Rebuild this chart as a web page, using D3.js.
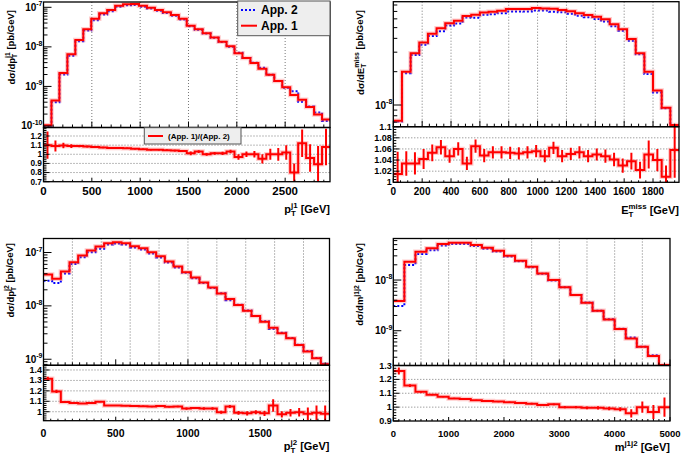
<!DOCTYPE html>
<html>
<head>
<meta charset="utf-8">
<script src="https://cdn.jsdelivr.net/npm/d3@7"></script>
<style>
html,body{margin:0;padding:0;background:#fff;}
svg text{font-family:"Liberation Sans",Arial,Helvetica,sans-serif;font-weight:bold;fill:#000;}
</style>
</head>
<body>
<svg id="chart" width="685" height="459"></svg>
<script>
// ---------------- data ----------------
// pT of leading jet (36 bins)
const ptj1Range = [0, 2964];
const ptj1App1 = [1.05e-10, 4.4e-10, 2.2e-9, 6.5e-9, 1.5e-8, 2.8e-8, 5.1e-8, 7.1e-8, 8.6e-8, 1.10e-7, 1.19e-7, 1.21e-7, 1.10e-7, 9.8e-8, 8.6e-8, 7.5e-8, 6.4e-8, 5.1e-8, 3.4e-8, 2.8e-8, 2.2e-8, 1.73e-8, 1.34e-8, 1.03e-8, 6.9e-9, 5.2e-9, 3.9e-9, 2.8e-9, 1.96e-9, 1.38e-9, 9.5e-10, 6.1e-10, 4.6e-10, 3.0e-10, 1.95e-10, 1.45e-10];
const ptj1App2 = [0.95e-10, 4.0e-10, 2.0e-9, 6.0e-9, 1.38e-8, 2.58e-8, 4.72e-8, 6.6e-8, 8.0e-8, 1.03e-7, 1.12e-7, 1.14e-7, 1.04e-7, 9.3e-8, 8.2e-8, 7.2e-8, 6.15e-8, 4.93e-8, 3.33e-8, 2.72e-8, 2.18e-8, 1.71e-8, 1.33e-8, 1.01e-8, 7.1e-9, 5.2e-9, 3.94e-9, 2.98e-9, 1.96e-9, 1.38e-9, 9.3e-10, 7.6e-10, 4.1e-10, 3.1e-10, 2.2e-10, 1.34e-10];
const ptj1Ratio = [1.10, 1.09, 1.095, 1.09, 1.09, 1.085, 1.08, 1.075, 1.07, 1.07, 1.065, 1.06, 1.055, 1.05, 1.05, 1.045, 1.04, 1.035, 1.01, 1.03, 1.0, 1.01, 1.01, 1.03, 0.97, 1.0, 1.0, 0.95, 1.0, 1.0, 1.02, 0.80, 1.12, 0.96, 0.89, 1.08];
const ptj1RatioErr = [0.15, 0.06, 0.03, 0.02, 0.012, 0.01, 0.008, 0.008, 0.008, 0.008, 0.008, 0.008, 0.008, 0.008, 0.008, 0.01, 0.01, 0.01, 0.02, 0.015, 0.015, 0.015, 0.018, 0.02, 0.03, 0.03, 0.035, 0.05, 0.06, 0.07, 0.08, 0.1, 0.15, 0.15, 0.2, 0.2];

// missing ET (33 bins)
const metRange = [0, 1980];
const metApp1 = [7.2e-9, 2.0e-8, 2.93e-8, 3.66e-8, 4.41e-8, 4.93e-8, 5.47e-8, 5.78e-8, 6.37e-8, 6.55e-8, 6.83e-8, 6.97e-8, 7.11e-8, 7.36e-8, 7.36e-8, 7.36e-8, 7.52e-8, 7.45e-8, 7.4e-8, 7.21e-8, 7.02e-8, 6.73e-8, 6.5e-8, 6.28e-8, 5.94e-8, 5.36e-8, 4.83e-8, 3.95e-8, 2.93e-8, 2.0e-8, 1.35e-8, 9.46e-9, 6.59e-9];
const metApp2 = [7.09e-9, 1.934e-8, 2.834e-8, 3.51e-8, 4.19e-8, 4.64e-8, 5.22e-8, 5.45e-8, 6.16e-8, 6.15e-8, 6.52e-8, 6.61e-8, 6.75e-8, 6.99e-8, 7.0e-8, 6.98e-8, 7.12e-8, 7.12e-8, 6.97e-8, 6.89e-8, 6.68e-8, 6.39e-8, 6.21e-8, 5.98e-8, 5.67e-8, 5.15e-8, 4.69e-8, 3.81e-8, 2.87e-8, 1.905e-8, 1.298e-8, 9.37e-9, 6.23e-9];
const metRatio = [1.015, 1.034, 1.034, 1.042, 1.053, 1.063, 1.047, 1.06, 1.034, 1.065, 1.048, 1.054, 1.054, 1.053, 1.052, 1.054, 1.056, 1.047, 1.062, 1.047, 1.051, 1.054, 1.047, 1.05, 1.047, 1.041, 1.03, 1.038, 1.022, 1.05, 1.04, 1.01, 1.058];
const metRatioErr = [0.04, 0.022, 0.02, 0.018, 0.015, 0.013, 0.012, 0.012, 0.012, 0.012, 0.012, 0.011, 0.011, 0.011, 0.011, 0.011, 0.011, 0.011, 0.011, 0.011, 0.011, 0.011, 0.011, 0.011, 0.012, 0.012, 0.013, 0.015, 0.015, 0.025, 0.02, 0.02, 0.05];

// pT of second jet (33 bins)
const ptj2Range = [0, 1980];
const ptj2App1 = [3.88e-8, 3.21e-8, 4.4e-8, 6.6e-8, 8.8e-8, 1.09e-7, 1.29e-7, 1.49e-7, 1.56e-7, 1.49e-7, 1.31e-7, 1.20e-7, 1.01e-7, 8.5e-8, 6.8e-8, 5.47e-8, 4.28e-8, 3.41e-8, 2.75e-8, 2.22e-8, 1.71e-8, 1.34e-8, 1.04e-8, 8.1e-9, 6.46e-9, 5.06e-9, 3.91e-9, 3.06e-9, 2.47e-9, 1.85e-9, 1.39e-9, 1.04e-9, 8.1e-10];
const ptj2App2 = [2.95e-8, 2.69e-8, 4.03e-8, 6.09e-8, 8.16e-8, 1.006e-7, 1.178e-7, 1.406e-7, 1.472e-7, 1.41e-7, 1.242e-7, 1.14e-7, 9.62e-8, 8.06e-8, 6.49e-8, 5.21e-8, 4.16e-8, 3.29e-8, 2.67e-8, 2.16e-8, 1.72e-8, 1.28e-8, 1.05e-8, 8.22e-9, 6.49e-9, 5.14e-9, 3.69e-9, 3.14e-9, 2.49e-9, 1.86e-9, 1.42e-9, 1.05e-9, 8.27e-10];
const ptj2Ratio = [1.315, 1.195, 1.093, 1.083, 1.078, 1.083, 1.095, 1.06, 1.06, 1.057, 1.055, 1.053, 1.05, 1.055, 1.048, 1.05, 1.03, 1.035, 1.03, 1.03, 0.995, 1.05, 0.99, 0.985, 0.995, 0.985, 1.06, 0.975, 0.99, 0.995, 0.98, 0.99, 0.98];
const ptj2RatioErr = [0.02, 0.015, 0.008, 0.006, 0.005, 0.005, 0.005, 0.005, 0.005, 0.005, 0.005, 0.006, 0.006, 0.007, 0.008, 0.008, 0.01, 0.01, 0.012, 0.012, 0.015, 0.015, 0.018, 0.02, 0.02, 0.025, 0.06, 0.03, 0.035, 0.04, 0.06, 0.07, 0.08];

// dijet invariant mass (25 bins)
const mjjRange = [0, 5000];
const mjjApp1 = [3.86e-9, 2.30e-8, 3.62e-8, 4.22e-8, 5.14e-8, 5.46e-8, 5.46e-8, 4.91e-8, 4.35e-8, 3.79e-8, 3.02e-8, 2.41e-8, 1.83e-8, 1.35e-8, 1.0e-8, 7.2e-9, 5.06e-9, 3.57e-9, 2.48e-9, 1.67e-9, 1.08e-9, 7.06e-10, 4.83e-10, 3.16e-10, 2.1e-10];
const mjjApp2 = [3.06e-9, 1.99e-8, 3.26e-8, 3.87e-8, 4.78e-8, 5.14e-8, 5.16e-8, 4.68e-8, 4.16e-8, 3.64e-8, 2.92e-8, 2.34e-8, 1.79e-8, 1.33e-8, 9.8e-9, 7.2e-9, 5.06e-9, 3.59e-9, 2.49e-9, 1.69e-9, 1.10e-9, 7.39e-10, 4.83e-10, 3.27e-10, 2.1e-10];
const mjjRatio = [1.26, 1.155, 1.11, 1.09, 1.075, 1.063, 1.058, 1.05, 1.045, 1.04, 1.035, 1.03, 1.025, 1.015, 1.02, 1.0, 1.0, 0.995, 0.995, 0.99, 0.985, 0.955, 1.0, 0.965, 1.0];
const mjjRatioErr = [0.025, 0.01, 0.006, 0.005, 0.004, 0.004, 0.004, 0.004, 0.004, 0.004, 0.005, 0.005, 0.006, 0.006, 0.007, 0.008, 0.009, 0.01, 0.012, 0.013, 0.015, 0.03, 0.04, 0.05, 0.07];

// tick labels
const ptj1XTicks = [0, 500, 1000, 1500, 2000, 2500];
const metXTicks = [0, 200, 400, 600, 800, 1000, 1200, 1400, 1600, 1800];
const ptj2XTicks = [0, 500, 1000, 1500];
const mjjXTicks = [0, 1000, 2000, 3000, 4000, 5000];
const ptj1Grid = [500, 1000, 1500, 2000, 2500];
const metGrid = [200, 400, 600, 800, 1000, 1200, 1400, 1600, 1800];
const ptj2Grid = [200, 400, 600, 800, 1000, 1200, 1400, 1600, 1800];
const mjjGrid = [500, 1000, 1500, 2000, 2500, 3000, 3500, 4000, 4500];
const ptj1RTicks = [0.7, 0.8, 0.9, 1, 1.1, 1.2];
const metRTicks = [1, 1.02, 1.04, 1.06, 1.08, 1.1];
const ptj2RTicks = [1, 1.1, 1.2, 1.3, 1.4];
const mjjRTicks = [0.9, 1, 1.1, 1.2, 1.3];
const ptj1YExp = [-10, -9, -8, -7];
const metYExp = [-8];
const ptj2YExp = [-9, -8, -7];
const mjjYExp = [-9, -8];
const legendLabels = ["App. 2", "App. 1"];
const ratioLegendLabel = "(App. 1)/(App. 2)";

// ---------------- layout ----------------
const panels = [
  {id:"p1", xDom:ptj1Range, a1:ptj1App1, a2:ptj1App2, r:ptj1Ratio, e:ptj1RatioErr,
   xTicks:ptj1XTicks, grid:ptj1Grid, rTicks:ptj1RTicks, yExp:ptj1YExp,
   L:43.5, R:330, T:2, M:127.5, B:181.7,
   yDom:[Math.pow(10,-10.038), Math.pow(10,-6.866)], rDom:[0.7,1.293],
   xMinor:100, rMinor:0.02, tickFs:11.5, tickY:195, rFs:8.3,
   xTitle:{pre:"p", sub:"T", sup:"j1", post:" [GeV]"}, xTitleY:213,
   yTitle:{pre:"d\u03c3/dp", sub:"T", sup:"j1", post:" [pb/GeV]"}, yTitleX:14.5, yTitleY:10},
  {id:"p2", xDom:metRange, a1:metApp1, a2:metApp2, r:metRatio, e:metRatioErr,
   xTicks:metXTicks, grid:metGrid, rTicks:metRTicks, yExp:metYExp,
   L:393.3, R:679, T:1.7, M:126.7, B:182.3,
   yDom:[6.37e-9, 8.57e-8], rDom:[1.0,1.1],
   xMinor:50, rMinor:0.005, tickFs:10, tickY:195, rFs:9,
   xTitle:{pre:"E", sub:"T", sup:"miss", post:" [GeV]"}, xTitleY:214,
   yTitle:{pre:"d\u03c3/dE", sub:"T", sup:"miss", post:" [pb/GeV]"}, yTitleX:363.5, yTitleY:10},
  {id:"p3", xDom:ptj2Range, a1:ptj2App1, a2:ptj2App2, r:ptj2Ratio, e:ptj2RatioErr,
   xTicks:ptj2XTicks, grid:ptj2Grid, rTicks:ptj2RTicks, yExp:ptj2YExp,
   L:43.5, R:329.5, T:238.5, M:365.3, B:420.7,
   yDom:[7.7e-10, 1.83e-7], rDom:[0.914,1.445],
   xMinor:50, rMinor:0.02, tickFs:10.5, tickY:437, rFs:9,
   xTitle:{pre:"p", sub:"T", sup:"j2", post:" [GeV]"}, xTitleY:450,
   yTitle:{pre:"d\u03c3/dp", sub:"T", sup:"j2", post:" [pb/GeV]"}, yTitleX:13.5, yTitleY:243},
  {id:"p4", xDom:mjjRange, a1:mjjApp1, a2:mjjApp2, r:mjjRatio, e:mjjRatioErr,
   xTicks:mjjXTicks, grid:mjjGrid, rTicks:mjjRTicks, yExp:mjjYExp,
   L:393.3, R:670, T:238.5, M:365.5, B:421,
   yDom:[2.06e-10, 6.6e-8], rDom:[0.9,1.3],
   xMinor:100, rMinor:0.02, tickFs:9.5, tickY:437, rFs:9,
   xTitle:{pre:"m", sub:"", sup:"j1j2", post:" [GeV]"}, xTitleY:451,
   yTitle:{pre:"d\u03c3/dm", sub:"", sup:"j1j2", post:" [pb/GeV]"}, yTitleX:363, yTitleY:243}
];

const svg = d3.select("#chart");
const defs = svg.append("defs");

function richText(g, t, fs) {
  const sfs = fs * 0.72;
  const txt = g.append("text").style("font-size", fs + "px");
  txt.append("tspan").text(t.pre);
  let subW = 0;
  if (t.sub) {
    const s = txt.append("tspan").attr("dy", fs * 0.3).style("font-size", sfs + "px").text(t.sub);
    subW = s.node().getComputedTextLength();
  }
  txt.append("tspan").attr("dx", -subW).attr("dy", t.sub ? -fs * 0.78 : -fs * 0.45)
     .style("font-size", sfs + "px").text(t.sup);
  txt.append("tspan").attr("dy", fs * 0.45).style("font-size", fs + "px").text(t.post);
  return txt;
}

const fmtR = v => String(+v.toFixed(3));

function drawPanel(p) {
  const g = svg.append("g");
  const x = d3.scaleLinear().domain(p.xDom).range([p.L, p.R]);
  const y = d3.scaleLog().domain(p.yDom).range([p.M, p.T]);
  const yr = d3.scaleLinear().domain(p.rDom).range([p.B, p.M]);
  const n = p.a1.length;
  const w = (p.xDom[1] - p.xDom[0]) / n;
  const edges = d3.range(n + 1).map(i => p.xDom[0] + i * w);

  const cm = p.id + "cm", cr = p.id + "cr";
  defs.append("clipPath").attr("id", cm).append("rect")
    .attr("x", p.L).attr("y", p.T).attr("width", p.R - p.L).attr("height", p.M - p.T);
  defs.append("clipPath").attr("id", cr).append("rect")
    .attr("x", p.L).attr("y", p.M).attr("width", p.R - p.L).attr("height", p.B - p.M);

  // vertical grid (main)
  g.append("g").selectAll("line").data(p.grid).join("line")
    .attr("x1", d => x(d)).attr("x2", d => x(d)).attr("y1", p.T).attr("y2", p.M)
    .attr("stroke", "#777").attr("stroke-width", 1).attr("stroke-dasharray", "1,2");
  // horizontal grid (ratio)
  g.append("g").selectAll("line")
    .data(p.rTicks.filter(v => v > p.rDom[0] + 1e-6 && v < p.rDom[1] - 1e-6)).join("line")
    .attr("x1", p.L).attr("x2", p.R).attr("y1", d => yr(d)).attr("y2", d => yr(d))
    .attr("stroke", "#777").attr("stroke-width", 1).attr("stroke-dasharray", "1,2");

  const pts = vals => vals.map((v, i) => [edges[i], v]).concat([[edges[n], vals[n - 1]]]);
  const lineM = d3.line().x(d => x(d[0])).y(d => y(d[1])).curve(d3.curveStepAfter);
  const lineR = d3.line().x(d => x(d[0])).y(d => yr(d[1])).curve(d3.curveStepAfter);

  const mg = g.append("g").attr("clip-path", `url(#${cm})`);
  mg.append("path").attr("d", lineM(pts(p.a2))).attr("fill", "none")
    .attr("stroke", "#0000ff").attr("stroke-width", 2).attr("stroke-dasharray", "2,2");
  mg.append("path").attr("d", lineM(pts(p.a1))).attr("fill", "none")
    .attr("stroke", "#ff7070").attr("stroke-opacity", 0.35).attr("stroke-width", 4.5);
  mg.append("path").attr("d", lineM(pts(p.a1))).attr("fill", "none")
    .attr("stroke", "#ff0000").attr("stroke-width", 2);

  const rg = g.append("g").attr("clip-path", `url(#${cr})`);
  rg.append("path").attr("d", lineR(pts(p.r))).attr("fill", "none")
    .attr("stroke", "#ff7070").attr("stroke-opacity", 0.35).attr("stroke-width", 4.5);
  rg.append("path").attr("d", lineR(pts(p.r))).attr("fill", "none")
    .attr("stroke", "#ff0000").attr("stroke-width", 2);
  rg.selectAll("line.err").data(p.r).join("line").attr("class", "err")
    .attr("x1", (d, i) => x(edges[i] + w / 2)).attr("x2", (d, i) => x(edges[i] + w / 2))
    .attr("y1", (d, i) => yr(d - p.e[i])).attr("y2", (d, i) => yr(d + p.e[i]))
    .attr("stroke", "#ff0000").attr("stroke-width", 2);

  // ticks
  const tk = g.append("g").attr("stroke", "#000").attr("stroke-width", 1);
  const xMajorSet = p.xTicks;
  const xm = d3.range(p.xDom[0], p.xDom[1] + 1e-6, p.xMinor);
  xm.forEach(v => {
    const maj = xMajorSet.some(t => Math.abs(t - v) < 1e-6);
    const xx = x(v);
    tk.append("line").attr("x1", xx).attr("x2", xx).attr("y1", p.M).attr("y2", p.M - (maj ? 6 : 3));
    tk.append("line").attr("x1", xx).attr("x2", xx).attr("y1", p.B).attr("y2", p.B - (maj ? 4 : 2));
  });
  // log ticks on main y
  const lo = Math.floor(Math.log10(p.yDom[0])), hi = Math.ceil(Math.log10(p.yDom[1]));
  for (let d = lo; d <= hi; d++) {
    for (let k = 1; k <= 9; k++) {
      const v = k * Math.pow(10, d);
      if (v < p.yDom[0] || v > p.yDom[1]) continue;
      tk.append("line").attr("x1", p.L).attr("x2", p.L + (k === 1 ? 8 : 4))
        .attr("y1", y(v)).attr("y2", y(v));
    }
  }
  // ratio y ticks
  const nr = Math.round((p.rDom[1] - p.rDom[0]) / p.rMinor);
  for (let i = 0; i <= nr + 1; i++) {
    const v = p.rTicks[0] + (i - Math.round((p.rTicks[0] - p.rDom[0]) / p.rMinor)) * p.rMinor;
    if (v < p.rDom[0] - 1e-6 || v > p.rDom[1] + 1e-6) continue;
    const maj = p.rTicks.some(t => Math.abs(t - v) < 1e-6);
    tk.append("line").attr("x1", p.L).attr("x2", p.L + (maj ? 6 : 3))
      .attr("y1", yr(v)).attr("y2", yr(v));
  }

  // frames
  g.append("rect").attr("x", p.L).attr("y", p.T).attr("width", p.R - p.L).attr("height", p.M - p.T)
    .attr("fill", "none").attr("stroke", "#000").attr("stroke-width", 1.3);
  g.append("rect").attr("x", p.L).attr("y", p.M).attr("width", p.R - p.L).attr("height", p.B - p.M)
    .attr("fill", "none").attr("stroke", "#000").attr("stroke-width", 1.3);

  // x tick labels
  g.append("g").selectAll("text").data(p.xTicks).join("text")
    .attr("x", d => x(d)).attr("y", p.tickY).attr("text-anchor", "middle")
    .style("font-size", p.tickFs + "px").text(d => d);
  // ratio y labels
  g.append("g").selectAll("text").data(p.rTicks).join("text")
    .attr("x", p.L - 1.5).attr("y", d => yr(d) + p.rFs * 0.34).attr("text-anchor", "end")
    .style("font-size", p.rFs + "px").text(d => fmtR(d));
  // main y labels (10^n)
  p.yExp.forEach(ex => {
    const t = g.append("text").attr("x", p.L - 1).attr("y", y(Math.pow(10, ex)) + 3.5)
      .attr("text-anchor", "end").style("font-size", "10px");
    t.append("tspan").text("10");
    t.append("tspan").attr("dy", -4.5).style("font-size", "7px").text(String(ex));
  });
  // axis titles
  const xt = richText(g, p.xTitle, 11);
  xt.attr("x", p.R).attr("y", p.xTitleY).attr("text-anchor", "end");
  const ytg = g.append("g").attr("transform", `translate(${p.yTitleX},${p.yTitleY}) rotate(-90)`);
  richText(ytg, p.yTitle, 9.5).attr("text-anchor", "end");
}

panels.forEach(drawPanel);

// legends (panel 1)
const lg = svg.append("g");
lg.append("rect").attr("x", 237.7).attr("y", 1).attr("width", 92.3).attr("height", 34.7)
  .attr("fill", "#eeeeee").attr("stroke", "#555").attr("stroke-width", 1);
const legStyles = [
  {stroke:"#0000ff", dash:"2,2"},
  {stroke:"#ff0000", dash:null}
];
legendLabels.forEach((lab, i) => {
  const yy = 10 + i * 15.7;
  const l = lg.append("line").attr("x1", 241).attr("x2", 257).attr("y1", yy).attr("y2", yy)
    .attr("stroke", legStyles[i].stroke).attr("stroke-width", 2);
  if (legStyles[i].dash) l.attr("stroke-dasharray", legStyles[i].dash);
  lg.append("text").attr("x", 261).attr("y", yy + 4.3).style("font-size", "12px").text(lab);
});
const rl = svg.append("g");
rl.append("rect").attr("x", 144.3).attr("y", 127.7).attr("width", 96.7).attr("height", 16.3)
  .attr("fill", "#eeeeee").attr("stroke", "#555").attr("stroke-width", 1);
rl.append("line").attr("x1", 148).attr("x2", 163).attr("y1", 136).attr("y2", 136)
  .attr("stroke", "#ff0000").attr("stroke-width", 2);
rl.append("text").attr("x", 168).attr("y", 138.8).style("font-size", "8px").text(ratioLegendLabel);
</script>
</body>
</html>
